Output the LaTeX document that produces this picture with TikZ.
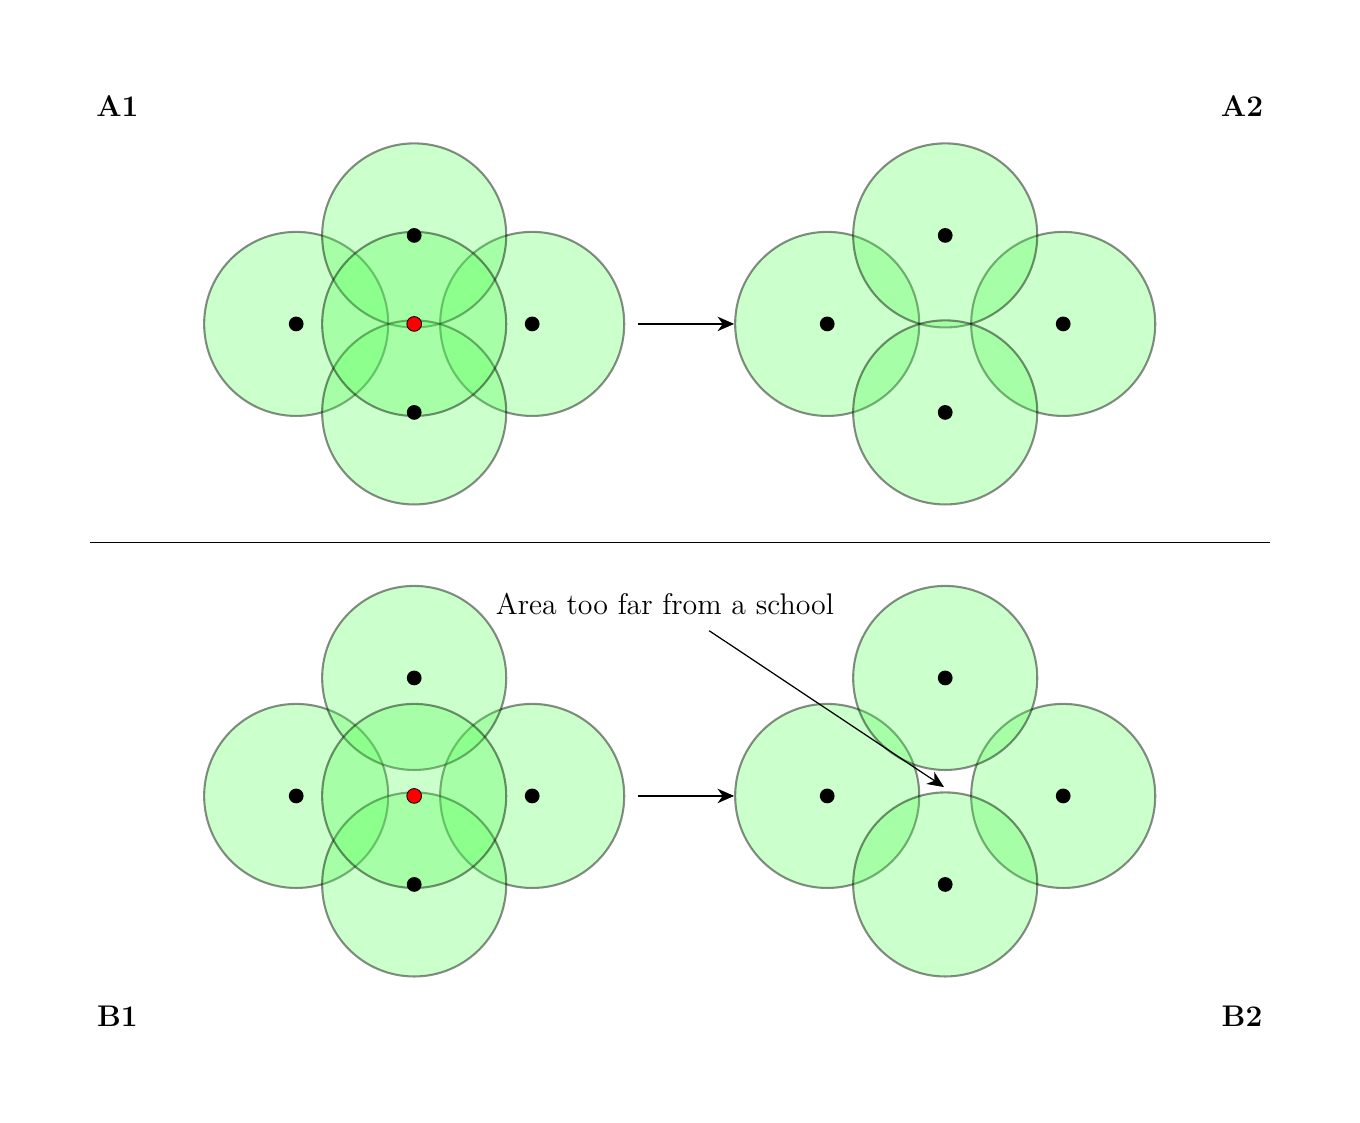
\documentclass[tikz,border=0pt]{standalone}
\usetikzlibrary{arrows.meta,positioning}
\tikzset{
  zone/.style={circle, minimum size=3.12cm, inner sep=0pt, fill=green!70, fill opacity=0.29, draw=black, draw opacity=0.45, line width=1pt},
  school/.style={circle, fill=black, minimum size=0.25cm, inner sep=0pt},
  closed/.style={school, fill=red, draw=black, line width=0.4pt},
  panel/.style={font=\Large\bfseries},
  >={Stealth[length=8pt, width=7pt, inset=2.5pt]}
}
\begin{document}
\begin{tikzpicture}[semithick]
\useasboundingbox (-7.02,5.49) rectangle (16.03,-13.53);
% A1
\foreach \n/\x/\y in {l/-2/0, r/2/0, t/0/1.5, b/0/-1.5, c/0/0}
  \node[zone] (a1\n) at (\x,\y) {};
\foreach \n in {l,r,t,b}
  \node[school] (a1\n dot) at (a1\n) {};
\node[closed] (a1cdot) at (a1c) {};
% A2
\begin{scope}[xshift = 9cm]
\foreach \n/\x/\y in {l/-2/0, r/2/0, t/0/1.5, b/0/-1.5}{
  \node[zone] (a2\n) at (\x,\y) {};
  \node[school] (a2\n dot) at (\x,\y) {};
}
\end{scope}
% B1
\begin{scope}[yshift = -8cm]
\foreach \n/\x/\y in {l/-2/0, r/2/0, t/0/2, b/0/-1.5, c/0/0}
  \node[zone] (b1\n) at (\x,\y) {};
\foreach \n in {l,r,t,b}
  \node[school] (b1\n dot) at (b1\n) {};
\node[closed] (b1cdot) at (b1c) {};
\end{scope}
% B2
\begin{scope}[xshift = 9cm, yshift = -8cm]
\foreach \n/\x/\y in {l/-2/0, r/2/0, t/0/2, b/0/-1.5}{
  \node[zone] (b2\n) at (\x,\y) {};
  \node[school] (b2\n dot) at (\x,\y) {};
}
\coordinate (hole) at (-0.02,0.15);
\end{scope}
\draw[->] ([xshift=0.22cm]a1r.east) -- (a2l.west);
\draw[->] ([xshift=0.22cm]b1r.east) -- (b2l.west);
\draw (-5.5,-3.71) -- (14.5,-3.71);
\node[panel] (A1) at (-5.03,3.69) {A1};
\node[panel] (A2) at (14.03,3.69) {A2};
\node[panel] (B1) at (-5.03,-11.73) {B1};
\node[panel] (B2) at (14.03,-11.73) {B2};
\node[font=\Large] (note) at (4.25,-4.75) {Area too far from a school};
\coordinate (tail) at (5.0,-5.2);
\draw[->] (tail) -- (hole);
\end{tikzpicture}
\end{document}
